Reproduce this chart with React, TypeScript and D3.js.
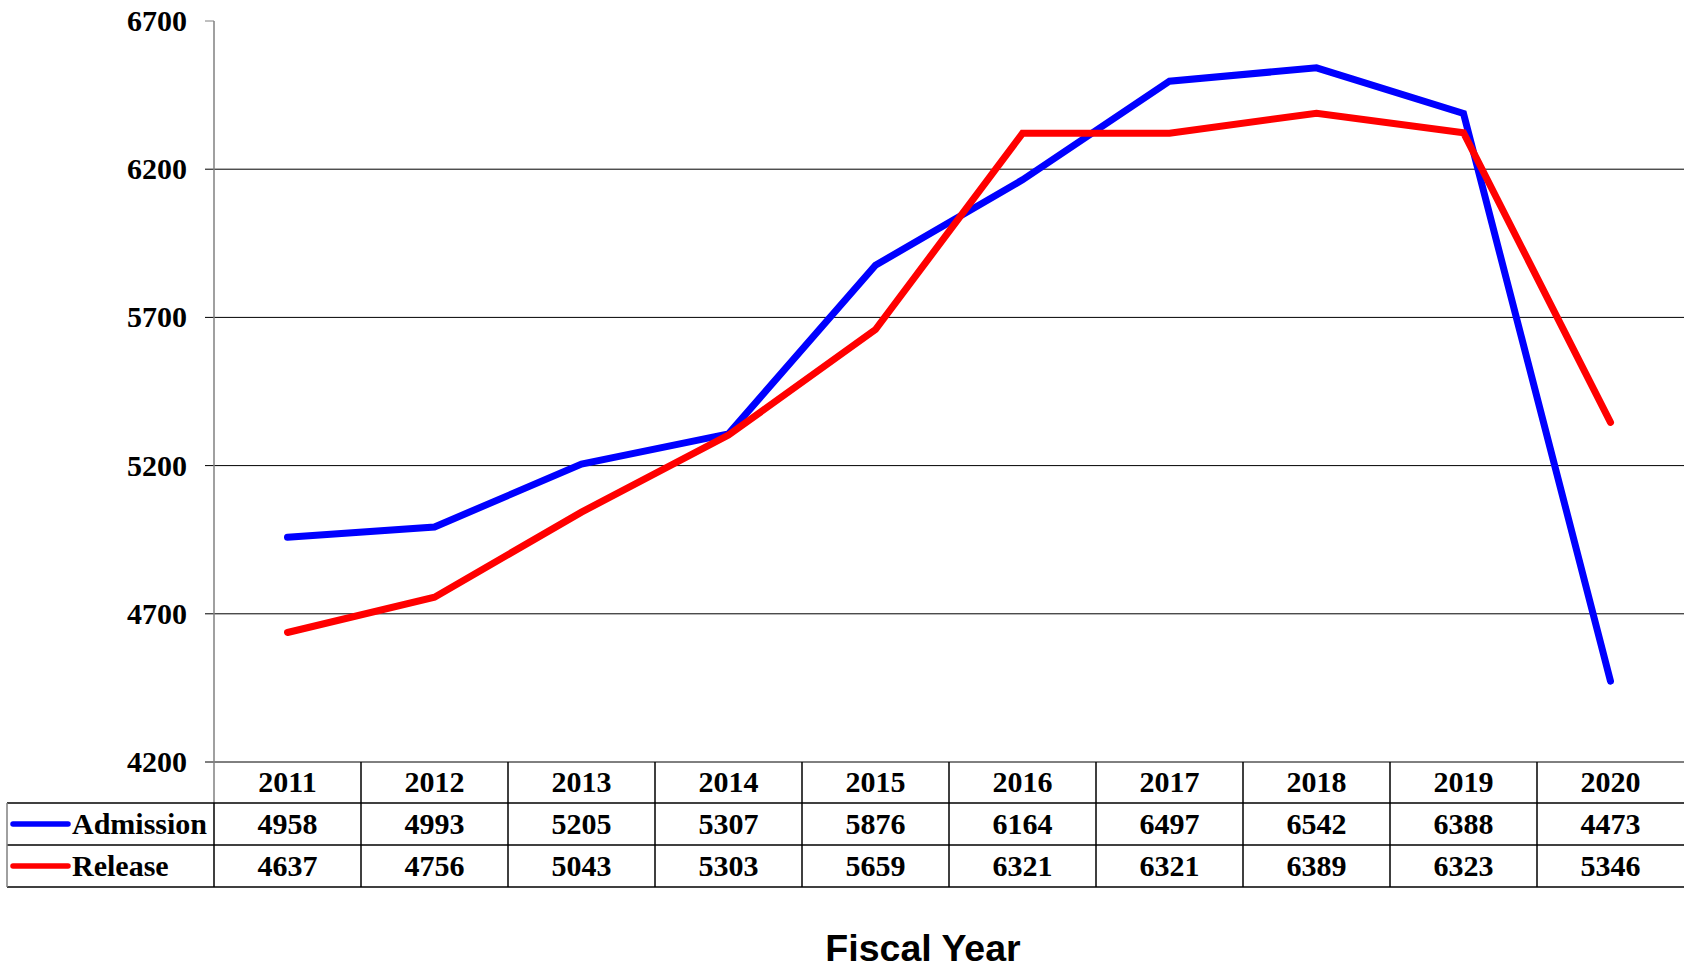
import React from "react";
import * as d3 from "d3";

const years = ["2011", "2012", "2013", "2014", "2015", "2016", "2017", "2018", "2019", "2020"];
const admission = [4958, 4993, 5205, 5307, 5876, 6164, 6497, 6542, 6388, 4473];
const release = [4637, 4756, 5043, 5303, 5659, 6321, 6321, 6389, 6323, 5346];
const yTicks = [4200, 4700, 5200, 5700, 6200, 6700];
const seriesNames = ["Admission", "Release"];
const seriesColors = ["#0000ff", "#ff0000"];

export default function App() {
  const W = 1684, H = 968;
  const left = 214, right = 1684, top = 21, bottom = 762;
  const x = d3.scaleBand<string>().domain(years).range([left, right]);
  const y = d3.scaleLinear().domain([4200, 6700]).range([bottom, top]);
  const line = d3.line<number>().x((_, i) => (x(years[i]) as number) + x.bandwidth() / 2).y(d => y(d));
  const series = [admission, release];
  const rowTops = [762, 803, 845, 887];
  const serif = "'Liberation Serif', 'Times New Roman', serif";
  const fs = 30;
  return (
    <svg width={W} height={H} style={{ position: "absolute", left: 0, top: 0, background: "#fff" }}>
      {yTicks.map(t => (
        <g key={t}>
          <line x1={205} x2={t === 6700 ? left : right} y1={y(t)} y2={y(t)} stroke={t === 6700 ? "#808080" : "#000"} strokeWidth={1} />
          <text x={187} y={y(t)} dy="0.33em" textAnchor="end" fontFamily={serif} fontWeight="bold" fontSize={fs}>{t}</text>
        </g>
      ))}
      <line x1={left} x2={left} y1={top} y2={rowTops[1]} stroke="#808080" strokeWidth={1.5} />
      <line x1={7} x2={right} y1={rowTops[1]} y2={rowTops[1]} stroke="#000" strokeWidth={1.5} />
      <line x1={7} x2={right} y1={rowTops[2]} y2={rowTops[2]} stroke="#000" strokeWidth={1.5} />
      <line x1={7} x2={right} y1={rowTops[3]} y2={rowTops[3]} stroke="#000" strokeWidth={1.5} />
      <line x1={7} x2={7} y1={rowTops[1]} y2={rowTops[3]} stroke="#808080" strokeWidth={1.5} />
      <line x1={left} x2={left} y1={rowTops[1]} y2={rowTops[3]} stroke="#000" strokeWidth={1.5} />
      {years.slice(1).map(yr => (
        <line key={yr} x1={x(yr)} x2={x(yr)} y1={rowTops[0]} y2={rowTops[3]} stroke="#000" strokeWidth={1.5} />
      ))}
      {years.map(yr => (
        <text key={yr} x={(x(yr) as number) + x.bandwidth() / 2} y={(rowTops[0] + rowTops[1]) / 2} dy="0.3em" textAnchor="middle" fontFamily={serif} fontWeight="bold" fontSize={fs}>{yr}</text>
      ))}
      {series.map((s, si) => (
        <g key={si}>
          <line x1={13} x2={68} y1={(rowTops[si + 1] + rowTops[si + 2]) / 2} y2={(rowTops[si + 1] + rowTops[si + 2]) / 2} stroke={seriesColors[si]} strokeWidth={5.5} strokeLinecap="round" />
          <text x={72} y={(rowTops[si + 1] + rowTops[si + 2]) / 2} dy="0.33em" fontFamily={serif} fontWeight="bold" fontSize={fs}>{seriesNames[si]}</text>
          {s.map((v, i) => (
            <text key={i} x={(x(years[i]) as number) + x.bandwidth() / 2} y={(rowTops[si + 1] + rowTops[si + 2]) / 2} dy="0.33em" textAnchor="middle" fontFamily={serif} fontWeight="bold" fontSize={fs}>{v}</text>
          ))}
        </g>
      ))}
      {series.map((s, si) => (
        <path key={si} d={line(s) as string} fill="none" stroke={seriesColors[si]} strokeWidth={7} strokeLinejoin="miter" strokeLinecap="round" />
      ))}
      <text x={923} y={961} textAnchor="middle" fontFamily="'Liberation Sans', Arial, sans-serif" fontWeight="bold" fontSize={37.5}>Fiscal Year</text>
    </svg>
  );
}
